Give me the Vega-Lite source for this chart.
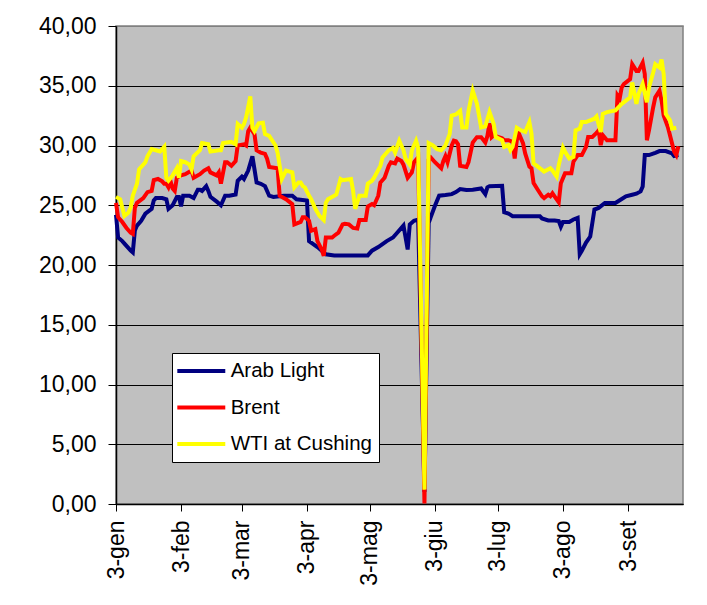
{
"$schema": "https://vega.github.io/schema/vega-lite/v6.json",
"width": 567, "height": 478,
"autosize": {"type": "none"},
"padding": {"left": 116, "top": 26, "right": 24, "bottom": 101},
"background": "white",
"config": {"view": {"fill": "#C0C0C0", "stroke": "#808080", "strokeWidth": 1.5}, "font": "Liberation Sans"},
"data": {"values": [
{"s":"Arab Light","d":"2000-01-03","p":24.2},{"s":"Arab Light","d":"2000-01-04","p":22.3},{"s":"Arab Light","d":"2000-01-06","p":22.0},{"s":"Arab Light","d":"2000-01-08","p":21.6},{"s":"Arab Light","d":"2000-01-10","p":21.2},{"s":"Arab Light","d":"2000-01-11","p":21.05},{"s":"Arab Light","d":"2000-01-12","p":22.9},{"s":"Arab Light","d":"2000-01-13","p":23.3},{"s":"Arab Light","d":"2000-01-15","p":23.7},{"s":"Arab Light","d":"2000-01-17","p":24.3},{"s":"Arab Light","d":"2000-01-20","p":24.7},{"s":"Arab Light","d":"2000-01-21","p":25.4},{"s":"Arab Light","d":"2000-01-22","p":25.6},{"s":"Arab Light","d":"2000-01-25","p":25.6},{"s":"Arab Light","d":"2000-01-27","p":25.5},{"s":"Arab Light","d":"2000-01-28","p":24.7},{"s":"Arab Light","d":"2000-01-30","p":25.0},{"s":"Arab Light","d":"2000-02-01","p":25.7},{"s":"Arab Light","d":"2000-02-02","p":25.7},{"s":"Arab Light","d":"2000-02-03","p":24.9},{"s":"Arab Light","d":"2000-02-04","p":25.8},{"s":"Arab Light","d":"2000-02-07","p":25.8},{"s":"Arab Light","d":"2000-02-09","p":25.6},{"s":"Arab Light","d":"2000-02-11","p":26.3},{"s":"Arab Light","d":"2000-02-12","p":26.3},{"s":"Arab Light","d":"2000-02-13","p":26.2},{"s":"Arab Light","d":"2000-02-15","p":26.6},{"s":"Arab Light","d":"2000-02-16","p":26.2},{"s":"Arab Light","d":"2000-02-17","p":25.7},{"s":"Arab Light","d":"2000-02-20","p":25.3},{"s":"Arab Light","d":"2000-02-22","p":25.0},{"s":"Arab Light","d":"2000-02-24","p":25.8},{"s":"Arab Light","d":"2000-02-26","p":25.8},{"s":"Arab Light","d":"2000-02-29","p":25.9},{"s":"Arab Light","d":"2000-03-01","p":27.05},{"s":"Arab Light","d":"2000-03-03","p":27.4},{"s":"Arab Light","d":"2000-03-04","p":27.2},{"s":"Arab Light","d":"2000-03-06","p":27.9},{"s":"Arab Light","d":"2000-03-08","p":29.1},{"s":"Arab Light","d":"2000-03-09","p":28.0},{"s":"Arab Light","d":"2000-03-10","p":26.9},{"s":"Arab Light","d":"2000-03-12","p":26.8},{"s":"Arab Light","d":"2000-03-14","p":26.6},{"s":"Arab Light","d":"2000-03-16","p":25.8},{"s":"Arab Light","d":"2000-03-18","p":25.7},{"s":"Arab Light","d":"2000-03-23","p":25.8},{"s":"Arab Light","d":"2000-03-27","p":25.8},{"s":"Arab Light","d":"2000-03-29","p":25.5},{"s":"Arab Light","d":"2000-04-03","p":25.4},{"s":"Arab Light","d":"2000-04-04","p":22.0},{"s":"Arab Light","d":"2000-04-06","p":21.75},{"s":"Arab Light","d":"2000-04-08","p":21.5},{"s":"Arab Light","d":"2000-04-11","p":21.05},{"s":"Arab Light","d":"2000-04-12","p":20.9},{"s":"Arab Light","d":"2000-04-16","p":20.8},{"s":"Arab Light","d":"2000-05-02","p":20.8},{"s":"Arab Light","d":"2000-05-04","p":21.2},{"s":"Arab Light","d":"2000-05-07","p":21.5},{"s":"Arab Light","d":"2000-05-09","p":21.75},{"s":"Arab Light","d":"2000-05-11","p":22.0},{"s":"Arab Light","d":"2000-05-14","p":22.3},{"s":"Arab Light","d":"2000-05-16","p":22.7},{"s":"Arab Light","d":"2000-05-19","p":23.3},{"s":"Arab Light","d":"2000-05-20","p":22.3},{"s":"Arab Light","d":"2000-05-21","p":21.3},{"s":"Arab Light","d":"2000-05-22","p":23.4},{"s":"Arab Light","d":"2000-05-24","p":23.7},{"s":"Arab Light","d":"2000-05-26","p":23.8},{"s":"Arab Light","d":"2000-05-29","p":1.0},{"s":"Arab Light","d":"2000-05-31","p":23.5},{"s":"Arab Light","d":"2000-06-01","p":24.0},{"s":"Arab Light","d":"2000-06-03","p":24.96},{"s":"Arab Light","d":"2000-06-05","p":25.8},{"s":"Arab Light","d":"2000-06-08","p":25.85},{"s":"Arab Light","d":"2000-06-11","p":25.93},{"s":"Arab Light","d":"2000-06-13","p":26.1},{"s":"Arab Light","d":"2000-06-15","p":26.35},{"s":"Arab Light","d":"2000-06-18","p":26.27},{"s":"Arab Light","d":"2000-06-21","p":26.3},{"s":"Arab Light","d":"2000-06-25","p":26.4},{"s":"Arab Light","d":"2000-06-27","p":25.93},{"s":"Arab Light","d":"2000-06-28","p":26.5},{"s":"Arab Light","d":"2000-06-29","p":26.6},{"s":"Arab Light","d":"2000-07-05","p":26.63},{"s":"Arab Light","d":"2000-07-06","p":24.42},{"s":"Arab Light","d":"2000-07-08","p":24.31},{"s":"Arab Light","d":"2000-07-10","p":24.09},{"s":"Arab Light","d":"2000-07-23","p":24.09},{"s":"Arab Light","d":"2000-07-24","p":23.9},{"s":"Arab Light","d":"2000-07-27","p":23.73},{"s":"Arab Light","d":"2000-07-30","p":23.73},{"s":"Arab Light","d":"2000-08-01","p":23.67},{"s":"Arab Light","d":"2000-08-02","p":23.2},{"s":"Arab Light","d":"2000-08-03","p":23.6},{"s":"Arab Light","d":"2000-08-06","p":23.6},{"s":"Arab Light","d":"2000-08-08","p":23.81},{"s":"Arab Light","d":"2000-08-10","p":23.95},{"s":"Arab Light","d":"2000-08-11","p":20.9},{"s":"Arab Light","d":"2000-08-12","p":21.19},{"s":"Arab Light","d":"2000-08-14","p":21.88},{"s":"Arab Light","d":"2000-08-16","p":22.38},{"s":"Arab Light","d":"2000-08-18","p":24.64},{"s":"Arab Light","d":"2000-08-20","p":24.78},{"s":"Arab Light","d":"2000-08-23","p":25.19},{"s":"Arab Light","d":"2000-08-28","p":25.19},{"s":"Arab Light","d":"2000-08-31","p":25.52},{"s":"Arab Light","d":"2000-09-02","p":25.75},{"s":"Arab Light","d":"2000-09-05","p":25.88},{"s":"Arab Light","d":"2000-09-07","p":25.97},{"s":"Arab Light","d":"2000-09-09","p":26.16},{"s":"Arab Light","d":"2000-09-10","p":26.57},{"s":"Arab Light","d":"2000-09-11","p":29.2},{"s":"Arab Light","d":"2000-09-13","p":29.2},{"s":"Arab Light","d":"2000-09-16","p":29.39},{"s":"Arab Light","d":"2000-09-18","p":29.53},{"s":"Arab Light","d":"2000-09-21","p":29.53},{"s":"Arab Light","d":"2000-09-24","p":29.34},{"s":"Arab Light","d":"2000-09-25","p":29.12},{"s":"Arab Light","d":"2000-09-27","p":29.2},
{"s":"Brent","d":"2000-01-03","p":25.2},{"s":"Brent","d":"2000-01-04","p":24.0},{"s":"Brent","d":"2000-01-06","p":23.6},{"s":"Brent","d":"2000-01-08","p":23.1},{"s":"Brent","d":"2000-01-10","p":22.7},{"s":"Brent","d":"2000-01-11","p":22.6},{"s":"Brent","d":"2000-01-12","p":24.8},{"s":"Brent","d":"2000-01-13","p":25.2},{"s":"Brent","d":"2000-01-16","p":25.6},{"s":"Brent","d":"2000-01-18","p":26.1},{"s":"Brent","d":"2000-01-20","p":26.2},{"s":"Brent","d":"2000-01-21","p":27.1},{"s":"Brent","d":"2000-01-23","p":27.2},{"s":"Brent","d":"2000-01-25","p":27.0},{"s":"Brent","d":"2000-01-26","p":26.8},{"s":"Brent","d":"2000-01-27","p":26.8},{"s":"Brent","d":"2000-01-28","p":26.5},{"s":"Brent","d":"2000-01-29","p":27.0},{"s":"Brent","d":"2000-01-30","p":26.4},{"s":"Brent","d":"2000-01-31","p":26.2},{"s":"Brent","d":"2000-02-01","p":27.3},{"s":"Brent","d":"2000-02-03","p":27.5},{"s":"Brent","d":"2000-02-05","p":27.6},{"s":"Brent","d":"2000-02-07","p":27.8},{"s":"Brent","d":"2000-02-08","p":27.9},{"s":"Brent","d":"2000-02-09","p":27.3},{"s":"Brent","d":"2000-02-12","p":27.6},{"s":"Brent","d":"2000-02-14","p":27.9},{"s":"Brent","d":"2000-02-16","p":28.1},{"s":"Brent","d":"2000-02-17","p":27.75},{"s":"Brent","d":"2000-02-20","p":27.5},{"s":"Brent","d":"2000-02-21","p":27.75},{"s":"Brent","d":"2000-02-22","p":26.8},{"s":"Brent","d":"2000-02-24","p":28.6},{"s":"Brent","d":"2000-02-25","p":28.6},{"s":"Brent","d":"2000-02-27","p":28.3},{"s":"Brent","d":"2000-02-29","p":28.7},{"s":"Brent","d":"2000-03-01","p":30.0},{"s":"Brent","d":"2000-03-04","p":30.1},{"s":"Brent","d":"2000-03-05","p":30.0},{"s":"Brent","d":"2000-03-06","p":31.2},{"s":"Brent","d":"2000-03-07","p":31.5},{"s":"Brent","d":"2000-03-09","p":30.95},{"s":"Brent","d":"2000-03-10","p":29.6},{"s":"Brent","d":"2000-03-12","p":29.4},{"s":"Brent","d":"2000-03-14","p":29.3},{"s":"Brent","d":"2000-03-15","p":28.9},{"s":"Brent","d":"2000-03-16","p":28.2},{"s":"Brent","d":"2000-03-20","p":28.1},{"s":"Brent","d":"2000-03-21","p":25.8},{"s":"Brent","d":"2000-03-24","p":25.5},{"s":"Brent","d":"2000-03-27","p":25.1},{"s":"Brent","d":"2000-03-28","p":23.4},{"s":"Brent","d":"2000-03-31","p":23.6},{"s":"Brent","d":"2000-04-01","p":24.0},{"s":"Brent","d":"2000-04-02","p":24.0},{"s":"Brent","d":"2000-04-04","p":23.7},{"s":"Brent","d":"2000-04-05","p":22.87},{"s":"Brent","d":"2000-04-07","p":23.0},{"s":"Brent","d":"2000-04-08","p":22.0},{"s":"Brent","d":"2000-04-10","p":21.3},{"s":"Brent","d":"2000-04-11","p":20.77},{"s":"Brent","d":"2000-04-12","p":22.3},{"s":"Brent","d":"2000-04-15","p":22.3},{"s":"Brent","d":"2000-04-16","p":22.45},{"s":"Brent","d":"2000-04-18","p":22.7},{"s":"Brent","d":"2000-04-20","p":23.4},{"s":"Brent","d":"2000-04-21","p":23.45},{"s":"Brent","d":"2000-04-23","p":23.4},{"s":"Brent","d":"2000-04-25","p":23.1},{"s":"Brent","d":"2000-04-27","p":23.05},{"s":"Brent","d":"2000-04-28","p":23.76},{"s":"Brent","d":"2000-05-01","p":23.76},{"s":"Brent","d":"2000-05-02","p":24.9},{"s":"Brent","d":"2000-05-04","p":25.1},{"s":"Brent","d":"2000-05-05","p":25.0},{"s":"Brent","d":"2000-05-07","p":25.8},{"s":"Brent","d":"2000-05-08","p":26.9},{"s":"Brent","d":"2000-05-10","p":27.3},{"s":"Brent","d":"2000-05-12","p":28.3},{"s":"Brent","d":"2000-05-13","p":28.6},{"s":"Brent","d":"2000-05-15","p":28.5},{"s":"Brent","d":"2000-05-16","p":28.9},{"s":"Brent","d":"2000-05-18","p":28.7},{"s":"Brent","d":"2000-05-19","p":28.4},{"s":"Brent","d":"2000-05-21","p":27.3},{"s":"Brent","d":"2000-05-23","p":27.75},{"s":"Brent","d":"2000-05-24","p":28.6},{"s":"Brent","d":"2000-05-26","p":29.0},{"s":"Brent","d":"2000-05-29","p":0.05},{"s":"Brent","d":"2000-05-31","p":28.8},{"s":"Brent","d":"2000-06-01","p":29.0},{"s":"Brent","d":"2000-06-03","p":28.6},{"s":"Brent","d":"2000-06-06","p":28.1},{"s":"Brent","d":"2000-06-07","p":28.7},{"s":"Brent","d":"2000-06-08","p":29.1},{"s":"Brent","d":"2000-06-09","p":28.6},{"s":"Brent","d":"2000-06-11","p":30.0},{"s":"Brent","d":"2000-06-12","p":30.4},{"s":"Brent","d":"2000-06-13","p":30.35},{"s":"Brent","d":"2000-06-14","p":30.1},{"s":"Brent","d":"2000-06-15","p":28.3},{"s":"Brent","d":"2000-06-18","p":28.2},{"s":"Brent","d":"2000-06-19","p":28.6},{"s":"Brent","d":"2000-06-21","p":30.25},{"s":"Brent","d":"2000-06-23","p":30.7},{"s":"Brent","d":"2000-06-25","p":30.7},{"s":"Brent","d":"2000-06-27","p":30.25},{"s":"Brent","d":"2000-06-28","p":30.8},{"s":"Brent","d":"2000-06-29","p":31.85},{"s":"Brent","d":"2000-06-30","p":30.7},{"s":"Brent","d":"2000-07-01","p":30.86},{"s":"Brent","d":"2000-07-03","p":30.72},{"s":"Brent","d":"2000-07-05","p":30.6},{"s":"Brent","d":"2000-07-06","p":30.44},{"s":"Brent","d":"2000-07-08","p":30.44},{"s":"Brent","d":"2000-07-10","p":30.3},{"s":"Brent","d":"2000-07-11","p":28.92},{"s":"Brent","d":"2000-07-12","p":30.44},{"s":"Brent","d":"2000-07-13","p":31.0},{"s":"Brent","d":"2000-07-15","p":30.17},{"s":"Brent","d":"2000-07-16","p":29.34},{"s":"Brent","d":"2000-07-18","p":28.23},{"s":"Brent","d":"2000-07-19","p":28.09},{"s":"Brent","d":"2000-07-20","p":26.85},{"s":"Brent","d":"2000-07-22","p":26.3},{"s":"Brent","d":"2000-07-24","p":25.75},{"s":"Brent","d":"2000-07-25","p":25.6},{"s":"Brent","d":"2000-07-27","p":25.88},{"s":"Brent","d":"2000-07-28","p":25.75},{"s":"Brent","d":"2000-07-29","p":26.0},{"s":"Brent","d":"2000-07-30","p":25.75},{"s":"Brent","d":"2000-08-01","p":25.25},{"s":"Brent","d":"2000-08-02","p":26.85},{"s":"Brent","d":"2000-08-04","p":27.68},{"s":"Brent","d":"2000-08-07","p":27.68},{"s":"Brent","d":"2000-08-08","p":28.65},{"s":"Brent","d":"2000-08-10","p":29.2},{"s":"Brent","d":"2000-08-12","p":29.2},{"s":"Brent","d":"2000-08-14","p":29.89},{"s":"Brent","d":"2000-08-15","p":30.72},{"s":"Brent","d":"2000-08-17","p":30.72},{"s":"Brent","d":"2000-08-19","p":31.05},{"s":"Brent","d":"2000-08-20","p":31.27},{"s":"Brent","d":"2000-08-21","p":30.03},{"s":"Brent","d":"2000-08-22","p":30.86},{"s":"Brent","d":"2000-08-24","p":30.44},{"s":"Brent","d":"2000-08-28","p":30.44},{"s":"Brent","d":"2000-08-29","p":34.17},{"s":"Brent","d":"2000-08-30","p":33.9},{"s":"Brent","d":"2000-08-31","p":34.86},{"s":"Brent","d":"2000-09-01","p":35.14},{"s":"Brent","d":"2000-09-04","p":35.55},{"s":"Brent","d":"2000-09-05","p":36.8},{"s":"Brent","d":"2000-09-07","p":36.24},{"s":"Brent","d":"2000-09-08","p":36.24},{"s":"Brent","d":"2000-09-10","p":36.93},{"s":"Brent","d":"2000-09-11","p":35.97},{"s":"Brent","d":"2000-09-12","p":30.44},{"s":"Brent","d":"2000-09-13","p":31.27},{"s":"Brent","d":"2000-09-15","p":33.2},{"s":"Brent","d":"2000-09-16","p":34.03},{"s":"Brent","d":"2000-09-18","p":34.59},{"s":"Brent","d":"2000-09-19","p":33.76},{"s":"Brent","d":"2000-09-20","p":32.51},{"s":"Brent","d":"2000-09-22","p":31.55},{"s":"Brent","d":"2000-09-24","p":30.17},{"s":"Brent","d":"2000-09-25","p":29.48},{"s":"Brent","d":"2000-09-26","p":29.2},{"s":"Brent","d":"2000-09-27","p":29.94},
{"s":"WTI at Cushing","d":"2000-01-03","p":25.7},{"s":"WTI at Cushing","d":"2000-01-05","p":25.5},{"s":"WTI at Cushing","d":"2000-01-07","p":24.1},{"s":"WTI at Cushing","d":"2000-01-09","p":24.4},{"s":"WTI at Cushing","d":"2000-01-10","p":24.8},{"s":"WTI at Cushing","d":"2000-01-11","p":25.8},{"s":"WTI at Cushing","d":"2000-01-13","p":26.8},{"s":"WTI at Cushing","d":"2000-01-14","p":28.0},{"s":"WTI at Cushing","d":"2000-01-17","p":28.6},{"s":"WTI at Cushing","d":"2000-01-18","p":29.1},{"s":"WTI at Cushing","d":"2000-01-20","p":29.7},{"s":"WTI at Cushing","d":"2000-01-22","p":29.6},{"s":"WTI at Cushing","d":"2000-01-24","p":29.5},{"s":"WTI at Cushing","d":"2000-01-26","p":29.9},{"s":"WTI at Cushing","d":"2000-01-27","p":27.3},{"s":"WTI at Cushing","d":"2000-01-28","p":27.05},{"s":"WTI at Cushing","d":"2000-01-30","p":27.5},{"s":"WTI at Cushing","d":"2000-01-31","p":27.8},{"s":"WTI at Cushing","d":"2000-02-01","p":28.1},{"s":"WTI at Cushing","d":"2000-02-02","p":27.3},{"s":"WTI at Cushing","d":"2000-02-03","p":28.7},{"s":"WTI at Cushing","d":"2000-02-05","p":28.6},{"s":"WTI at Cushing","d":"2000-02-07","p":28.4},{"s":"WTI at Cushing","d":"2000-02-08","p":28.0},{"s":"WTI at Cushing","d":"2000-02-09","p":29.1},{"s":"WTI at Cushing","d":"2000-02-12","p":29.6},{"s":"WTI at Cushing","d":"2000-02-13","p":30.2},{"s":"WTI at Cushing","d":"2000-02-16","p":30.1},{"s":"WTI at Cushing","d":"2000-02-17","p":29.5},{"s":"WTI at Cushing","d":"2000-02-21","p":29.6},{"s":"WTI at Cushing","d":"2000-02-22","p":29.6},{"s":"WTI at Cushing","d":"2000-02-23","p":30.2},{"s":"WTI at Cushing","d":"2000-02-27","p":30.3},{"s":"WTI at Cushing","d":"2000-02-29","p":30.1},{"s":"WTI at Cushing","d":"2000-03-01","p":31.8},{"s":"WTI at Cushing","d":"2000-03-03","p":31.5},{"s":"WTI at Cushing","d":"2000-03-04","p":31.8},{"s":"WTI at Cushing","d":"2000-03-05","p":32.35},{"s":"WTI at Cushing","d":"2000-03-07","p":34.1},{"s":"WTI at Cushing","d":"2000-03-08","p":31.5},{"s":"WTI at Cushing","d":"2000-03-09","p":31.2},{"s":"WTI at Cushing","d":"2000-03-11","p":31.85},{"s":"WTI at Cushing","d":"2000-03-13","p":31.9},{"s":"WTI at Cushing","d":"2000-03-14","p":30.95},{"s":"WTI at Cushing","d":"2000-03-16","p":30.8},{"s":"WTI at Cushing","d":"2000-03-19","p":30.0},{"s":"WTI at Cushing","d":"2000-03-20","p":29.4},{"s":"WTI at Cushing","d":"2000-03-22","p":27.2},{"s":"WTI at Cushing","d":"2000-03-24","p":27.9},{"s":"WTI at Cushing","d":"2000-03-27","p":27.75},{"s":"WTI at Cushing","d":"2000-03-28","p":26.5},{"s":"WTI at Cushing","d":"2000-03-30","p":26.9},{"s":"WTI at Cushing","d":"2000-03-31","p":26.9},{"s":"WTI at Cushing","d":"2000-04-01","p":26.6},{"s":"WTI at Cushing","d":"2000-04-02","p":26.5},{"s":"WTI at Cushing","d":"2000-04-04","p":25.8},{"s":"WTI at Cushing","d":"2000-04-05","p":25.5},{"s":"WTI at Cushing","d":"2000-04-07","p":24.7},{"s":"WTI at Cushing","d":"2000-04-09","p":24.1},{"s":"WTI at Cushing","d":"2000-04-11","p":23.76},{"s":"WTI at Cushing","d":"2000-04-12","p":25.2},{"s":"WTI at Cushing","d":"2000-04-13","p":25.5},{"s":"WTI at Cushing","d":"2000-04-16","p":25.8},{"s":"WTI at Cushing","d":"2000-04-17","p":25.9},{"s":"WTI at Cushing","d":"2000-04-19","p":27.2},{"s":"WTI at Cushing","d":"2000-04-20","p":27.1},{"s":"WTI at Cushing","d":"2000-04-24","p":27.2},{"s":"WTI at Cushing","d":"2000-04-25","p":26.2},{"s":"WTI at Cushing","d":"2000-04-26","p":24.7},{"s":"WTI at Cushing","d":"2000-04-28","p":25.8},{"s":"WTI at Cushing","d":"2000-05-01","p":25.8},{"s":"WTI at Cushing","d":"2000-05-02","p":26.8},{"s":"WTI at Cushing","d":"2000-05-04","p":27.05},{"s":"WTI at Cushing","d":"2000-05-05","p":27.3},{"s":"WTI at Cushing","d":"2000-05-08","p":28.3},{"s":"WTI at Cushing","d":"2000-05-09","p":29.0},{"s":"WTI at Cushing","d":"2000-05-12","p":29.6},{"s":"WTI at Cushing","d":"2000-05-14","p":29.8},{"s":"WTI at Cushing","d":"2000-05-15","p":29.4},{"s":"WTI at Cushing","d":"2000-05-17","p":30.4},{"s":"WTI at Cushing","d":"2000-05-19","p":29.6},{"s":"WTI at Cushing","d":"2000-05-20","p":28.9},{"s":"WTI at Cushing","d":"2000-05-22","p":28.4},{"s":"WTI at Cushing","d":"2000-05-23","p":29.6},{"s":"WTI at Cushing","d":"2000-05-25","p":30.4},{"s":"WTI at Cushing","d":"2000-05-26","p":29.8},{"s":"WTI at Cushing","d":"2000-05-29","p":1.2},{"s":"WTI at Cushing","d":"2000-05-31","p":30.2},{"s":"WTI at Cushing","d":"2000-06-02","p":30.0},{"s":"WTI at Cushing","d":"2000-06-04","p":29.7},{"s":"WTI at Cushing","d":"2000-06-06","p":29.6},{"s":"WTI at Cushing","d":"2000-06-08","p":30.0},{"s":"WTI at Cushing","d":"2000-06-10","p":30.95},{"s":"WTI at Cushing","d":"2000-06-11","p":32.5},{"s":"WTI at Cushing","d":"2000-06-13","p":32.6},{"s":"WTI at Cushing","d":"2000-06-15","p":32.9},{"s":"WTI at Cushing","d":"2000-06-16","p":31.5},{"s":"WTI at Cushing","d":"2000-06-18","p":31.5},{"s":"WTI at Cushing","d":"2000-06-19","p":32.9},{"s":"WTI at Cushing","d":"2000-06-21","p":34.6},{"s":"WTI at Cushing","d":"2000-06-23","p":33.5},{"s":"WTI at Cushing","d":"2000-06-25","p":31.5},{"s":"WTI at Cushing","d":"2000-06-27","p":31.6},{"s":"WTI at Cushing","d":"2000-06-29","p":32.8},{"s":"WTI at Cushing","d":"2000-07-01","p":31.8},{"s":"WTI at Cushing","d":"2000-07-02","p":30.7},{"s":"WTI at Cushing","d":"2000-07-05","p":30.44},{"s":"WTI at Cushing","d":"2000-07-06","p":29.89},{"s":"WTI at Cushing","d":"2000-07-08","p":30.03},{"s":"WTI at Cushing","d":"2000-07-09","p":29.61},{"s":"WTI at Cushing","d":"2000-07-10","p":29.89},{"s":"WTI at Cushing","d":"2000-07-12","p":31.49},{"s":"WTI at Cushing","d":"2000-07-14","p":31.27},{"s":"WTI at Cushing","d":"2000-07-16","p":31.13},{"s":"WTI at Cushing","d":"2000-07-18","p":31.96},{"s":"WTI at Cushing","d":"2000-07-19","p":31.0},{"s":"WTI at Cushing","d":"2000-07-20","p":28.51},{"s":"WTI at Cushing","d":"2000-07-22","p":28.23},{"s":"WTI at Cushing","d":"2000-07-24","p":27.96},{"s":"WTI at Cushing","d":"2000-07-25","p":27.82},{"s":"WTI at Cushing","d":"2000-07-28","p":28.09},{"s":"WTI at Cushing","d":"2000-07-29","p":27.9},{"s":"WTI at Cushing","d":"2000-07-31","p":27.4},{"s":"WTI at Cushing","d":"2000-08-01","p":28.37},{"s":"WTI at Cushing","d":"2000-08-03","p":29.83},{"s":"WTI at Cushing","d":"2000-08-04","p":29.48},{"s":"WTI at Cushing","d":"2000-08-06","p":28.92},{"s":"WTI at Cushing","d":"2000-08-08","p":29.06},{"s":"WTI at Cushing","d":"2000-08-09","p":31.27},{"s":"WTI at Cushing","d":"2000-08-11","p":31.41},{"s":"WTI at Cushing","d":"2000-08-12","p":31.96},{"s":"WTI at Cushing","d":"2000-08-14","p":31.96},{"s":"WTI at Cushing","d":"2000-08-16","p":32.1},{"s":"WTI at Cushing","d":"2000-08-18","p":32.24},{"s":"WTI at Cushing","d":"2000-08-19","p":32.43},{"s":"WTI at Cushing","d":"2000-08-21","p":31.13},{"s":"WTI at Cushing","d":"2000-08-22","p":32.65},{"s":"WTI at Cushing","d":"2000-08-24","p":32.79},{"s":"WTI at Cushing","d":"2000-08-28","p":32.93},{"s":"WTI at Cushing","d":"2000-08-31","p":33.48},{"s":"WTI at Cushing","d":"2000-09-02","p":33.76},{"s":"WTI at Cushing","d":"2000-09-04","p":34.03},{"s":"WTI at Cushing","d":"2000-09-05","p":35.28},{"s":"WTI at Cushing","d":"2000-09-07","p":33.48},{"s":"WTI at Cushing","d":"2000-09-08","p":34.31},{"s":"WTI at Cushing","d":"2000-09-10","p":35.14},{"s":"WTI at Cushing","d":"2000-09-12","p":33.62},{"s":"WTI at Cushing","d":"2000-09-13","p":34.86},{"s":"WTI at Cushing","d":"2000-09-15","p":36.1},{"s":"WTI at Cushing","d":"2000-09-16","p":36.8},{"s":"WTI at Cushing","d":"2000-09-18","p":36.52},{"s":"WTI at Cushing","d":"2000-09-19","p":37.2},{"s":"WTI at Cushing","d":"2000-09-20","p":35.97},{"s":"WTI at Cushing","d":"2000-09-21","p":32.65},{"s":"WTI at Cushing","d":"2000-09-23","p":32.1},{"s":"WTI at Cushing","d":"2000-09-24","p":31.41},{"s":"WTI at Cushing","d":"2000-09-26","p":31.49}
]},
"mark": {"type": "line", "strokeWidth": 4},
"encoding": {
  "x": {"field": "d", "type": "temporal",
    "scale": {"type": "utc", "domain": [{"year": 2000, "month": 1, "date": 3, "utc": true}, {"year": 2000, "month": 9, "date": 29, "hours": 5, "utc": true}]},
    "axis": {"title": null, "grid": false,
      "values": [{"year":2000,"month":1,"date":3,"utc":true},{"year":2000,"month":2,"date":3,"utc":true},{"year":2000,"month":3,"date":3,"utc":true},{"year":2000,"month":4,"date":3,"utc":true},{"year":2000,"month":5,"date":3,"utc":true},{"year":2000,"month":6,"date":3,"utc":true},{"year":2000,"month":7,"date":3,"utc":true},{"year":2000,"month":8,"date":3,"utc":true},{"year":2000,"month":9,"date":3,"utc":true}],
      "labelExpr": "'3-' + ['gen','feb','mar','apr','mag','giu','lug','ago','set','ott','nov','dic'][utcmonth(datum.value)]",
      "labelAngle": 270, "labelAlign": "right", "labelBaseline": "middle",
      "labelFontSize": 23, "labelColor": "black", "labelFont": "Liberation Sans",
      "labelPadding": 9, "labelOverlap": false, "labelFlush": false,
      "tickSize": 7, "tickColor": "black", "tickWidth": 1,
      "domainColor": "black", "domainWidth": 1.5}},
  "y": {"field": "p", "type": "quantitative",
    "scale": {"domain": [0, 40], "nice": false},
    "axis": {"title": null, "values": [0,5,10,15,20,25,30,35,40],
      "labelExpr": "replace(format(datum.value, '.2f'), '.', ',')",
      "labelFontSize": 23, "labelColor": "black", "labelFont": "Liberation Sans",
      "labelPadding": 12, "tickSize": 8, "tickColor": "black", "tickWidth": 1,
      "domainColor": "black", "domainWidth": 1.5,
      "grid": true, "gridColor": {"condition": {"test": "datum.value == 40", "value": "#808080"}, "value": "black"}, "gridWidth": 1}},
  "color": {"field": "s", "type": "nominal",
    "scale": {"domain": ["Arab Light", "Brent", "WTI at Cushing"], "range": ["#000080", "#FF0000", "#FFFF00"]},
    "legend": {"title": null, "orient": "none", "legendX": 56, "legendY": 327,
      "fillColor": "white", "strokeColor": "black", "padding": 7,
      "symbolType": "M-1.41,0H3.92", "symbolSize": 324, "symbolStrokeWidth": 4,
      "labelFontSize": 20.5, "labelFont": "Liberation Sans", "labelColor": "black",
      "labelOffset": 29.7, "rowPadding": 14.5}}
}
}
